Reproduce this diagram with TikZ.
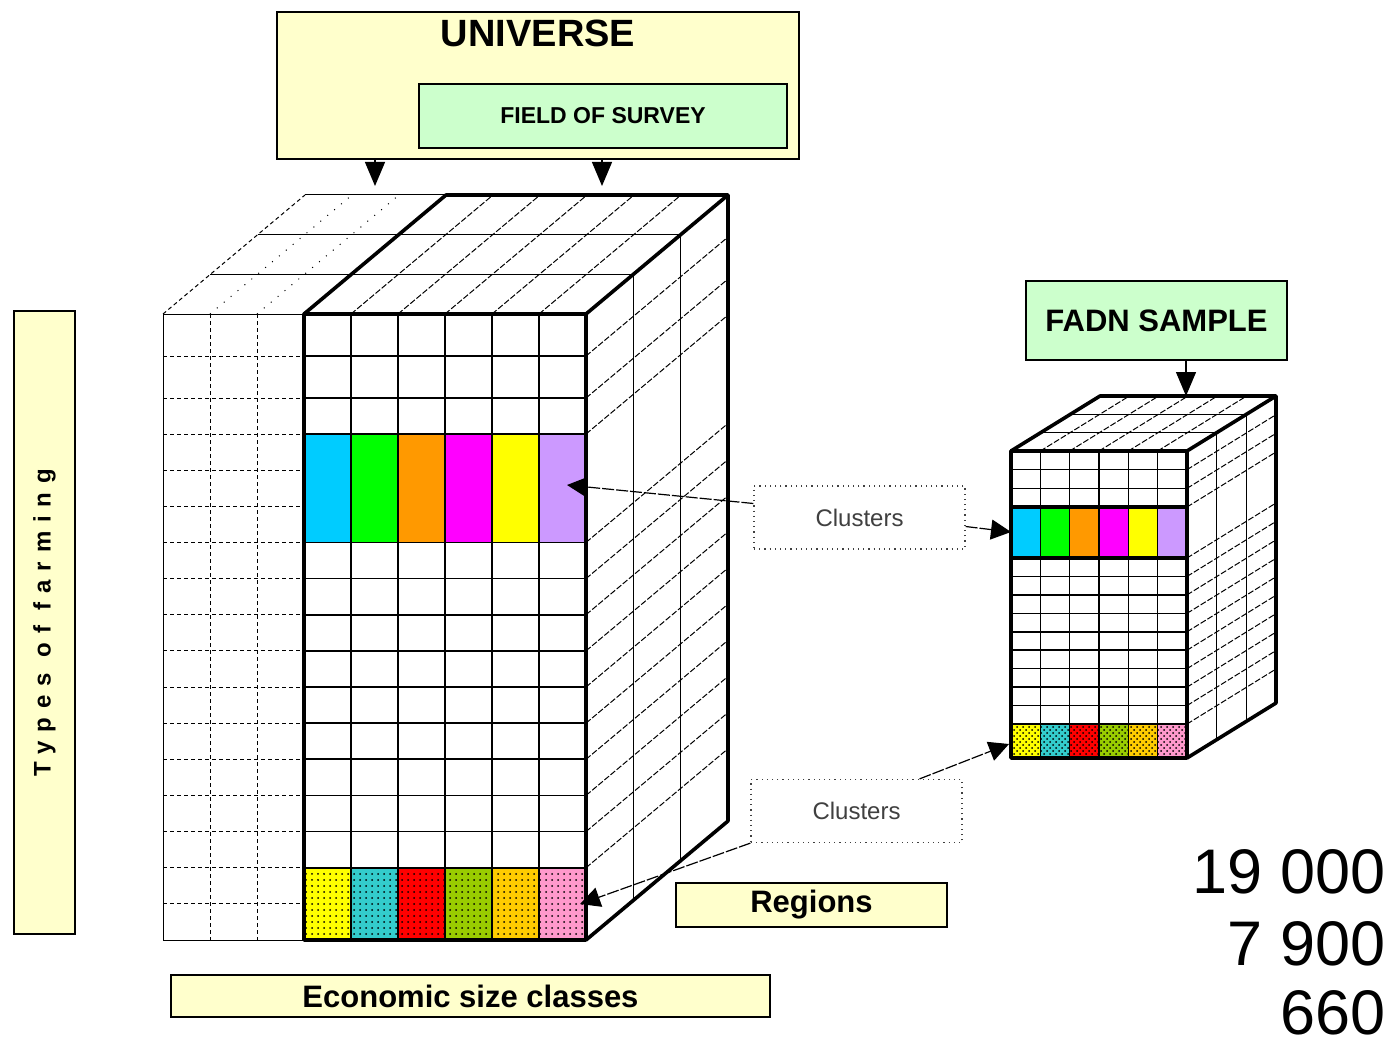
\documentclass[tikz,border=0pt]{standalone}
\usepackage{fontspec}
\setmainfont{Liberation Sans}
\newfontfamily\spacedfont[LetterSpace=37]{Liberation Sans Bold}
\usetikzlibrary{arrows.meta,patterns}
\definecolor{paleyellow}{HTML}{FFFFCC}
\definecolor{palegreen}{HTML}{CCFFCC}
\definecolor{skyblue}{HTML}{00CCFF}
\definecolor{brightgreen}{HTML}{00FF00}
\definecolor{deeporange}{HTML}{FF9900}
\definecolor{brightmagenta}{HTML}{FF00FF}
\definecolor{brightyellow}{HTML}{FFFF00}
\definecolor{lavender}{HTML}{CC99FF}
\definecolor{teal}{HTML}{33CCCC}
\definecolor{brightred}{HTML}{FF0000}
\definecolor{olive}{HTML}{99CC00}
\definecolor{gold}{HTML}{FFCC00}
\definecolor{pink}{HTML}{FF99CC}

\begin{document}
\begin{tikzpicture}
[every node/.style={inner sep=0pt},
 >={Triangle[width=10pt,length=10pt]},
 yellowbox/.style={rectangle, draw=black, line width=0.75pt, fill=paleyellow},
 greenbox/.style={rectangle, draw=black, line width=0.75pt, fill=palegreen},
 clusterbox/.style={rectangle, draw=black!75, dotted, line width=0.6pt, minimum width=105.5pt, minimum height=31.5pt, text=black!75, font=\fontsize{12}{14}\selectfont},
 boldlabel/.style={font=\bfseries\fontsize{15.5}{17}\selectfont},
 thickedge/.style={line width=1.8pt, line join=round},
 gridline/.style={line width=0.8pt},
 faceline/.style={line width=0.5pt},
 depthline/.style={line width=0.5pt, dash pattern=on 3pt off 1pt},
 hiddenline/.style={line width=0.5pt, dash pattern=on 2pt off 1.5pt},
 link/.style={line width=0.6pt, dash pattern=on 6pt off 1pt},
 countlabel/.style={anchor=base east, font=\fontsize{31.5}{36}\selectfont}]
\fill[white] (0pt,0pt) rectangle (695.5pt,-524pt);
\useasboundingbox (0pt,0pt) rectangle (695.5pt,-524pt);

\draw[faceline] (81.5pt,-157pt) rectangle (152pt,-470pt);
\foreach \x in {105,128.5}
  \draw[hiddenline] (\x pt,-157pt) -- (\x pt,-470pt);
\foreach \y in {-178,-199,-217,-235.07,-253.14,-271.21,-289.29,-307.36,-325.43,-343.5,-361.57,-379.64,-397.71,-415.79,-433.86,-451.93}
  \draw[hiddenline] (81.5pt,\y pt) -- (152pt,\y pt);
\draw[hiddenline] (81.5pt,-157pt) -- (152.5pt,-97.5pt);
\draw[faceline] (152.5pt,-97.5pt) -- (223pt,-97.5pt);
\foreach \x in {105,128.5}
  \draw[faceline, loosely dotted] (\x pt,-157pt) -- ++(71pt,59.5pt);

\foreach \c [count=\i from 0] in {skyblue,brightgreen,deeporange,brightmagenta,brightyellow,lavender}
  \fill[\c] (152pt+23.5pt*\i,-217pt) rectangle ++(23.5pt,-54.21pt);
\foreach \c [count=\i from 0] in {brightyellow,teal,brightred,olive,gold,pink}
  \fill[\c] (152pt+23.5pt*\i,-433.86pt) rectangle ++(23.5pt,-36.14pt);
\fill[pattern=dots] (152pt,-433.86pt) rectangle (293pt,-470pt);
\foreach \x in {175.5,199,222.5,246,269.5}
  \draw[gridline] (\x pt,-157pt) -- (\x pt,-470pt);
\foreach \y in {-178,-199,-217,-271.21,-289.29,-307.36,-325.43,-343.5,-361.57,-379.64,-397.71,-415.79,-433.86}
  \draw[gridline] (152pt,\y pt) -- (293pt,\y pt);
\foreach \x in {175.5,199,222.5,246,269.5}
  \draw[depthline] (\x pt,-157pt) -- ++(71pt,59.5pt);
\draw[faceline] (105.17pt,-137.17pt) -- (316.67pt,-137.17pt);
\draw[faceline] (128.83pt,-117.33pt) -- (340.33pt,-117.33pt);
\draw[faceline] (316.67pt,-137.17pt) -- (316.67pt,-450.17pt);
\draw[faceline] (340.33pt,-117.33pt) -- (340.33pt,-430.33pt);
\foreach \y in {-178,-199,-217,-271.21,-289.29,-307.36,-325.43,-343.5,-361.57,-379.64,-397.71,-415.79,-433.86}
  \draw[depthline] (293pt,\y pt) -- ++(71pt,59.5pt);
\draw[thickedge] (152pt,-157pt) rectangle (293pt,-470pt);
\draw[thickedge] (152pt,-157pt) -- (223pt,-97.5pt) -- (364pt,-97.5pt) -- (364pt,-410.5pt) -- (293pt,-470pt);
\draw[thickedge] (293pt,-157pt) -- (364pt,-97.5pt);

\foreach \c [count=\i from 0] in {skyblue,brightgreen,deeporange,brightmagenta,brightyellow,lavender}
  \fill[\c] (505.5pt+14.667pt*\i,-253.5pt) rectangle ++(14.667pt,-25.5pt);
\foreach \c [count=\i from 0] in {brightyellow,teal,brightred,olive,gold,pink}
  \fill[\c] (505.5pt+14.667pt*\i,-362pt) rectangle ++(14.667pt,-17pt);
\fill[pattern=crosshatch dots] (505.5pt,-362pt) rectangle (593.5pt,-379pt);
\foreach \x in {520.17,534.83,549.5,564.17,578.83}
  \draw[gridline] (\x pt,-225.5pt) -- (\x pt,-379pt);
\foreach \y in {-234.83,-244.17,-288.22,-297.44,-306.67,-315.89,-325.11,-334.33,-343.56,-352.78,-362}
  \draw[gridline] (505.5pt,\y pt) -- (593.5pt,\y pt);
\foreach \x in {520.17,534.83,549.5,564.17,578.83}
  \draw[depthline] (\x pt,-225.5pt) -- ++(44.5pt,27.5pt);
\draw[gridline] (520.33pt,-216.33pt) -- (608.33pt,-216.33pt);
\draw[gridline] (535.17pt,-207.17pt) -- (623.17pt,-207.17pt);
\draw[gridline] (608.33pt,-216.33pt) -- (608.33pt,-369.83pt);
\draw[gridline] (623.17pt,-207.17pt) -- (623.17pt,-360.67pt);
\foreach \y in {-234.83,-244.17,-253.5,-279,-288.22,-297.44,-306.67,-315.89,-325.11,-334.33,-343.56,-352.78,-362}
  \draw[depthline] (593.5pt,\y pt) -- ++(44.5pt,27.5pt);
\draw[thickedge] (505.5pt,-253.5pt) rectangle (593.5pt,-279pt);
\draw[thickedge] (505.5pt,-225.5pt) rectangle (593.5pt,-379pt);
\draw[thickedge] (505.5pt,-225.5pt) -- (550pt,-198pt) -- (638pt,-198pt) -- (638pt,-351.5pt) -- (593.5pt,-379pt);
\draw[thickedge] (593.5pt,-225.5pt) -- (638pt,-198pt);

\node (universe) [yellowbox, minimum width=261pt, minimum height=73.5pt] at (269pt,-42.75pt) {};
\node (universetitle) [font=\bfseries\fontsize{19}{22}\selectfont] at (269pt,-16.75pt) {UNIVERSE};
\node (field) [greenbox, minimum width=184pt, minimum height=32pt, font=\bfseries\fontsize{11.5}{13}\selectfont] at (301.5pt,-58pt) {FIELD OF SURVEY};
\node (sample) [greenbox, minimum width=130.5pt, minimum height=39.5pt, font=\bfseries\fontsize{15.5}{17}\selectfont] at (578.25pt,-160.25pt) {FADN SAMPLE};
\node (types) [yellowbox, rotate=90, minimum width=311.5pt, minimum height=30.5pt, font=\spacedfont\fontsize{12}{14}\selectfont] at (22.25pt,-311.25pt) {Types of farming};
\node (economic) [yellowbox, boldlabel, minimum width=299.5pt, minimum height=21pt] at (235.25pt,-498pt) {Economic size classes};
\node (regions) [yellowbox, boldlabel, minimum width=135.5pt, minimum height=22pt] at (405.75pt,-452.5pt) {Regions};
\node (clustersA) [clusterbox] at (429.75pt,-258.75pt) {Clusters};
\node (clustersB) [clusterbox] at (428.25pt,-405.5pt) {Clusters};
\node (universecount) [countlabel] at (693pt,-446.5pt) {19 000};
\node (fieldcount) [countlabel] at (693pt,-482.5pt) {7 900};
\node (samplecount) [countlabel] at (693pt,-517pt) {660};

\coordinate (universetip) at (187.5pt,-93pt);
\coordinate (fieldtip) at (301pt,-93pt);
\coordinate (sampletip) at (593pt,-198pt);
\coordinate (bandtip) at (283.5pt,-242.5pt);
\coordinate (sampleband) at (505.5pt,-266pt);
\coordinate (sampleregion) at (504.5pt,-372pt);
\coordinate (regiontip) at (290pt,-452pt);
\draw [line width=0.6pt, -{Triangle[width=10pt,length=12pt]}] (universe.south -| universetip) -- (universetip);
\draw [line width=0.6pt, -{Triangle[width=10pt,length=12pt]}] (universe.south -| fieldtip) -- (fieldtip);
\draw [line width=0.6pt, -{Triangle[width=10pt,length=12pt]}] (sample.south -| sampletip) -- (sampletip);
\draw [link, ->] ([yshift=7pt]clustersA.west) -- (bandtip);
\draw [link, ->] ([yshift=-4.5pt]clustersA.east) -- (sampleband);
\draw [link, ->] ([xshift=31.5pt]clustersB.north) -- (sampleregion);
\draw [link, ->] (clustersB.south west) -- (regiontip);
\end{tikzpicture}
\end{document}
